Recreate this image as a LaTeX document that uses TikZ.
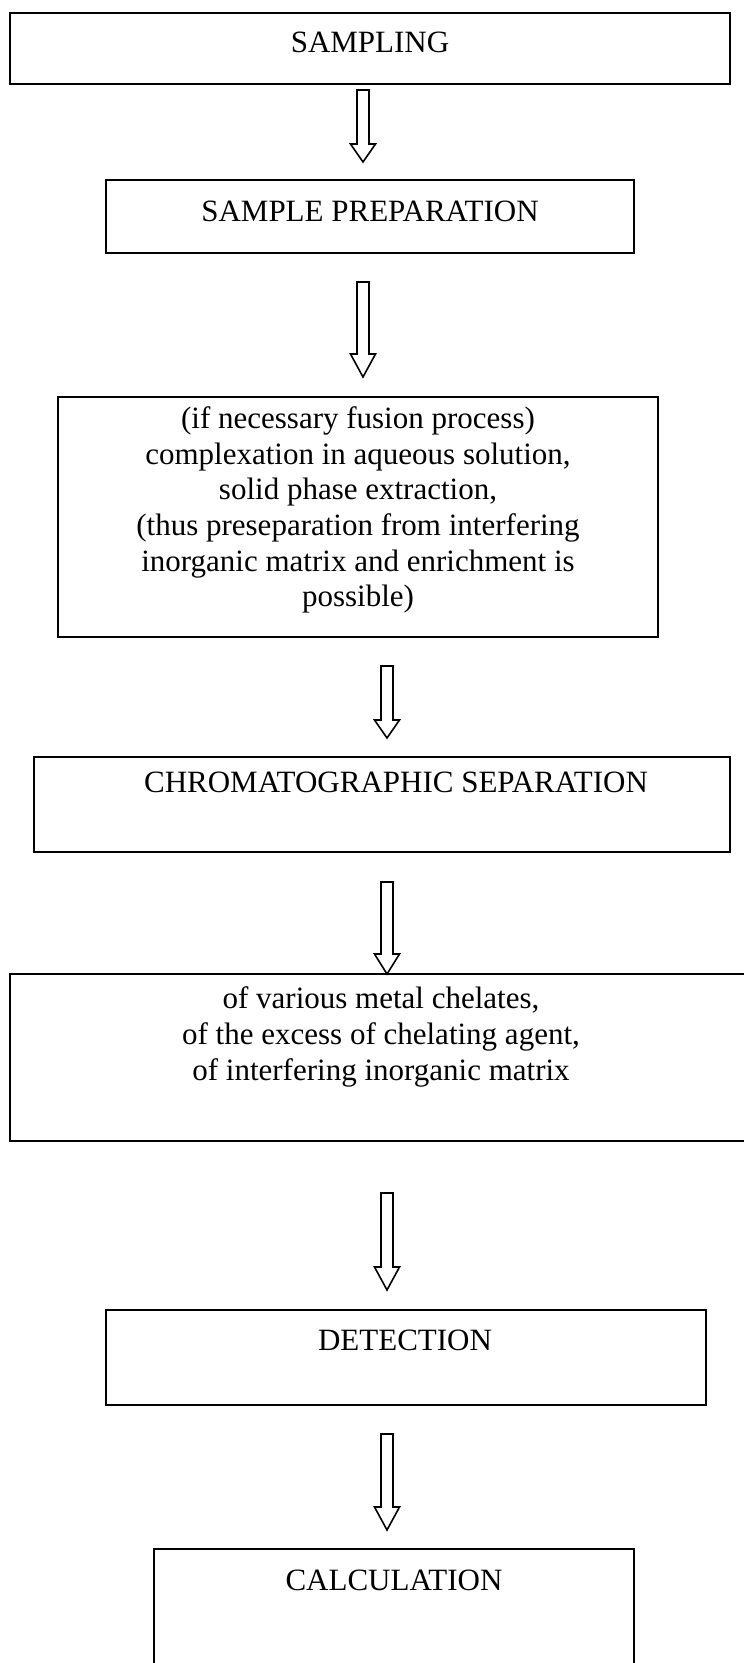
\documentclass[tikz,border=0pt]{standalone}
\usepackage{fontspec}
\setmainfont{Liberation Serif}
\newcommand\blockdown[4]{%
  \draw[arrowline] (#1-6,#2) -- (#1+6,#2) -- (#1+6,#3) -- (#1+12.5,#3) -- (#1,#4) -- (#1-12.5,#3) -- (#1-6,#3) -- cycle;}
\begin{document}
\begin{tikzpicture}[x=1pt,y=-1pt,
  boxline/.style={draw=black, line width=2pt},
  arrowline/.style={draw=black, line width=1.6pt, fill=white, line join=miter},
  txt/.style={anchor=base, inner sep=0pt, font=\fontsize{31}{35.7}\selectfont, align=center}]
\useasboundingbox (0,0) rectangle (744,1663);
\fill[white] (0,0) rectangle (744,1663);
% boxes
\draw[boxline] (9.6,12.7) rectangle (730,84);
\draw[boxline] (106,180) rectangle (634,253);
\draw[boxline] (58,397) rectangle (658,637);
\draw[boxline] (34,757) rectangle (730,852);
\draw[boxline] (9.6,974) rectangle (770,1141);
\draw[boxline] (106,1310) rectangle (706,1405);
\draw[boxline] (154,1549) rectangle (634,1700);
% texts
\node[txt] (t1) at (370,52) {SAMPLING};
\node[txt] (t2) at (370,221) {SAMPLE PREPARATION};
\node[txt] (t3a) at (358,428) {(if necessary fusion process)};
\node[txt] (t3b) at (358,464) {complexation in aqueous solution,};
\node[txt] (t3c) at (358,499) {solid phase extraction,};
\node[txt] (t3d) at (358,535) {(thus preseparation from interfering};
\node[txt] (t3e) at (358,571) {inorganic matrix and enrichment is};
\node[txt] (t3f) at (358,606) {possible)};
\node[txt] (t4) at (396,792) {CHROMATOGRAPHIC SEPARATION};
\node[txt] (t5a) at (381,1008) {of various metal chelates,};
\node[txt] (t5b) at (381,1044) {of the excess of chelating agent,};
\node[txt] (t5c) at (381,1080) {of interfering inorganic matrix};
\node[txt] (t6) at (405,1350) {DETECTION};
\node[txt] (t7) at (394,1590) {CALCULATION};
% arrows
\blockdown{363}{90}{144}{162}
\blockdown{363}{282}{354}{377}
\blockdown{387}{666}{720}{738}
\blockdown{387}{882}{954}{974}
\blockdown{387}{1193}{1267}{1290}
\blockdown{387}{1434}{1507}{1530}
\end{tikzpicture}
\end{document}
